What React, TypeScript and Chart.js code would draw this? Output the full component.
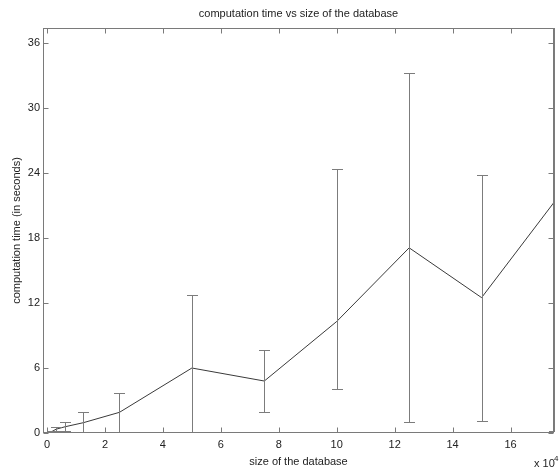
import { useEffect, useRef } from "react";
import { Chart, registerables } from "chart.js";

Chart.register(...registerables);

// size of the database (x 10^4)
const sizes = [0.04, 0.08, 0.15625, 0.3125, 0.625, 1.25, 2.5, 5, 7.5, 10, 12.5, 15, 17.5];
// computation time (seconds)
const times = [0.03, 0.06, 0.12, 0.35, 0.58, 0.95, 1.91, 6.0, 4.8, 10.3, 17.1, 12.5, 21.3];
// error bar bounds
const errLower = [0.0, 0.02, 0.05, 0.16, 0.15, -0.02, 0.13, -0.74, 1.94, 4.06, 1.0, 1.1, 0.2];
const errUpper = [0.06, 0.1, 0.2, 0.58, 1.04, 1.91, 3.68, 12.74, 7.66, 24.4, 33.2, 23.8, 42.4];

const xTicks = [0, 2, 4, 6, 8, 10, 12, 14, 16];
const yTicks = [0, 6, 12, 18, 24, 30, 36];

const titleText = "computation time vs size of the database";
const xLabel = "size of the database";
const yLabel = "computation time (in seconds)";

const FONT = '"Liberation Sans", Arial, sans-serif';

const decorPlugin = {
  id: "decor",
  afterDatasetsDraw(chart: any) {
    const ctx = chart.ctx;
    const ca = chart.chartArea;
    const xs = chart.scales.x;
    const ys = chart.scales.y;
    ctx.save();
    ctx.beginPath();
    ctx.rect(ca.left, ca.top, ca.right - ca.left + 1, ca.bottom - ca.top);
    ctx.clip();
    ctx.strokeStyle = "#7c7c7c";
    ctx.lineWidth = 1;
    for (let i = 0; i < sizes.length; i++) {
      const px = Math.round(xs.getPixelForValue(sizes[i])) + 0.5;
      const lo = Math.round(ys.getPixelForValue(errLower[i])) + 0.5;
      const hi = Math.round(ys.getPixelForValue(errUpper[i])) + 0.5;
      ctx.beginPath();
      ctx.moveTo(px, lo);
      ctx.lineTo(px, hi);
      ctx.moveTo(px - 5.5, lo);
      ctx.lineTo(px + 5.5, lo);
      ctx.moveTo(px - 5.5, hi);
      ctx.lineTo(px + 5.5, hi);
      ctx.stroke();
    }
    ctx.restore();
  },
  afterDraw(chart: any) {
    const ctx = chart.ctx;
    const ca = chart.chartArea;
    const xs = chart.scales.x;
    const ys = chart.scales.y;
    ctx.save();
    const L = Math.round(ca.left) + 0.5;
    const R = Math.round(ca.right) - 0.5;
    const T = Math.round(ca.top) + 0.5;
    const B = Math.round(ca.bottom) - 0.5;
    ctx.strokeStyle = "#7a7a7a";
    ctx.lineWidth = 1;
    ctx.strokeRect(L, T, R - L, B - T);
    ctx.beginPath();
    for (const v of yTicks) {
      const py = Math.round(ys.getPixelForValue(v)) + 0.5;
      ctx.moveTo(L, py);
      ctx.lineTo(L + 5, py);
      ctx.moveTo(R, py);
      ctx.lineTo(R - 5, py);
    }
    for (const v of xTicks) {
      const px = Math.round(xs.getPixelForValue(v)) + 0.5;
      ctx.moveTo(px, B);
      ctx.lineTo(px, B - 5);
      ctx.moveTo(px, T);
      ctx.lineTo(px, T + 5);
    }
    ctx.stroke();

    ctx.fillStyle = "#222";
    ctx.font = `11px ${FONT}`;
    ctx.textAlign = "center";
    ctx.textBaseline = "alphabetic";
    const cx = (ca.left + ca.right) / 2;
    ctx.fillText(titleText, cx, 17);
    ctx.fillText(xLabel, cx, 465);

    ctx.save();
    ctx.translate(20, (ca.top + ca.bottom) / 2);
    ctx.rotate(-Math.PI / 2);
    ctx.fillText(yLabel, 0, 0);
    ctx.restore();

    ctx.textAlign = "left";
    ctx.fillText("x 10", 534, 467);
    ctx.font = `8px ${FONT}`;
    ctx.fillText("4", 554, 461);
    ctx.restore();
  },
};

export default function App() {
  const ref = useRef<HTMLCanvasElement | null>(null);
  useEffect(() => {
    if (!ref.current) return;
    const chart = new Chart(ref.current, {
      type: "line",
      data: {
        datasets: [
          {
            data: sizes.map((x, i) => ({ x, y: times[i] })),
            borderColor: "#3a3a3a",
            borderWidth: 1,
            pointRadius: 0,
            tension: 0,
            fill: false,
          },
        ],
      },
      options: {
        animation: false,
        responsive: false,
        devicePixelRatio: 1,
        layout: { padding: { top: 28, right: 5, left: 0, bottom: 0 } },
        plugins: { legend: { display: false }, tooltip: { enabled: false }, title: { display: false } },
        scales: {
          x: {
            type: "linear",
            min: -0.14,
            max: 17.5,
            grid: { display: false, drawTicks: false },
            border: { display: false },
            afterBuildTicks: (s: any) => {
              s.ticks = xTicks.map((v) => ({ value: v }));
            },
            afterFit: (s: any) => {
              s.height = 35;
            },
            ticks: {
              padding: 5,
              autoSkip: false,
              maxRotation: 0,
              color: "#222",
              font: { family: FONT, size: 11 },
            },
          },
          y: {
            type: "linear",
            min: 0,
            max: 37.4,
            grid: { display: false, drawTicks: false },
            border: { display: false },
            afterBuildTicks: (s: any) => {
              s.ticks = yTicks.map((v) => ({ value: v }));
            },
            afterFit: (s: any) => {
              s.width = 43;
            },
            ticks: {
              padding: 3,
              autoSkip: false,
              color: "#222",
              font: { family: FONT, size: 11 },
            },
          },
        },
      },
      plugins: [decorPlugin],
    });
    return () => chart.destroy();
  }, []);
  return (
    <div style={{ position: "absolute", left: 0, top: 0, width: 559, height: 468, background: "#fff" }}>
      <canvas ref={ref} width={559} height={468} />
    </div>
  );
}
